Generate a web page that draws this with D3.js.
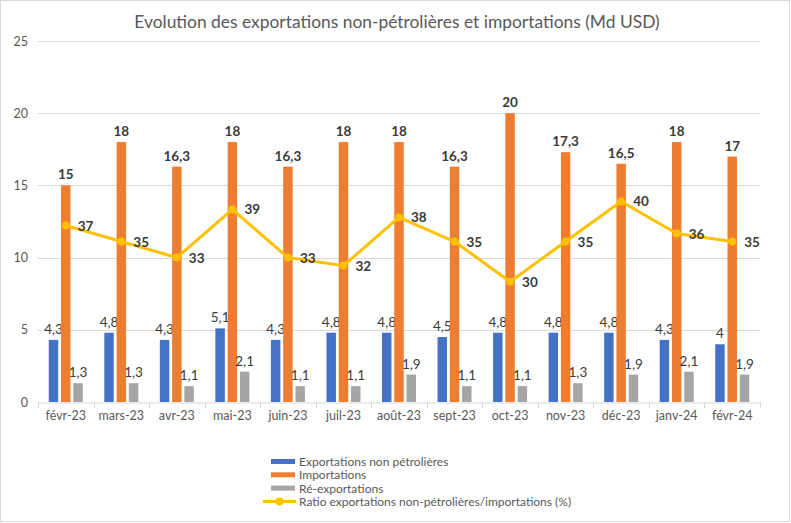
<!DOCTYPE html>
<html>
<head>
<meta charset="utf-8">
<script src="https://cdn.jsdelivr.net/npm/d3@7"></script>
<style>
  body { margin: 0; background: #fff; }
  svg { display: block; font-family: Lato, "Open Sans", sans-serif; }
</style>
</head>
<body>
<svg></svg>
<script>
var months = ['févr-23', 'mars-23', 'avr-23', 'mai-23', 'juin-23', 'juil-23', 'août-23',
    'sept-23', 'oct-23', 'nov-23', 'déc-23', 'janv-24', 'févr-24'];
var exportsNonOil = [4.3, 4.8, 4.3, 5.1, 4.3, 4.8, 4.8, 4.5, 4.8, 4.8, 4.8, 4.3, 4];
var imports = [15, 18, 16.3, 18, 16.3, 18, 18, 16.3, 20, 17.3, 16.5, 18, 17];
var reExports = [1.3, 1.3, 1.1, 2.1, 1.1, 1.1, 1.9, 1.1, 1.1, 1.3, 1.9, 2.1, 1.9];
var ratio = [37, 35, 33, 39, 33, 32, 38, 35, 30, 35, 40, 36, 35];
var yTicks = [0, 5, 10, 15, 20, 25];

var seriesNames = ['Exportations non pétrolières', 'Importations', 'Ré-exportations'];
var seriesColors = ['#4472C4', '#ED7D31', '#A5A5A5'];
var seriesValues = [exportsNonOil, imports, reExports];
var lineName = 'Ratio exportations non-pétrolières/importations (%)';
var lineColor = '#FFC000';

var width = 791, height = 523;
var plotLeft = 38, plotRight = 760, plotTop = 41, plotBottom = 402;

var fmt = function (v) { return String(v).replace('.', ','); };

var svg = d3.select('svg')
    .attr('width', width)
    .attr('height', height);

svg.append('rect')
    .attr('x', 0.5).attr('y', 0.5)
    .attr('width', width - 2).attr('height', height - 2)
    .style('fill', '#fff')
    .style('stroke', '#d9d9d9');

svg.append('text')
    .text('Evolution des exportations non-pétrolières et importations (Md USD)')
    .attr('x', 397).attr('y', 28)
    .attr('text-anchor', 'middle')
    .attr('font-size', '17.4px')
    .style('fill', '#595959');

var y = d3.scaleLinear().domain([0, 25]).range([plotBottom, plotTop]);
var yRatio = d3.scaleLinear().domain([15, 60]).range([plotBottom, plotTop]);

var x0 = d3.scaleBand().domain(months).range([plotLeft, plotRight]).paddingInner(0).paddingOuter(0);
var bw = x0.bandwidth();
var x1 = d3.scaleBand().domain(d3.range(3)).range([bw / 2 - 17, bw / 2 + 17]).paddingInner(0.23);

// gridlines
svg.append('g').selectAll('line')
    .data(yTicks.slice(1))
    .enter().append('line')
    .attr('x1', plotLeft).attr('x2', plotRight)
    .attr('y1', function (d) { return Math.round(y(d)) + 0.5; })
    .attr('y2', function (d) { return Math.round(y(d)) + 0.5; })
    .style('stroke', '#d9d9d9');

var yAxis = svg.append('g')
    .attr('transform', 'translate(' + plotLeft + ',0)')
    .call(d3.axisLeft(y).tickValues(yTicks).tickSize(0).tickPadding(10));
yAxis.select('.domain').remove();
yAxis.selectAll('text').attr('font-size', '12.5px').style('fill', '#595959').attr('font-family', 'Lato, sans-serif');

var xAxis = svg.append('g')
    .attr('transform', 'translate(0,' + (plotBottom + 0.5) + ')')
    .call(d3.axisBottom(x0).tickSize(0).tickPadding(9));
xAxis.select('.domain').style('stroke', '#d9d9d9');
xAxis.selectAll('text').attr('font-size', '12.5px').style('fill', '#595959').attr('font-family', 'Lato, sans-serif');
svg.append('g').selectAll('line')
    .data(d3.range(months.length + 1))
    .enter().append('line')
    .attr('x1', function (i) { return Math.round(plotLeft + i * bw) + 0.5; })
    .attr('x2', function (i) { return Math.round(plotLeft + i * bw) + 0.5; })
    .attr('y1', plotBottom).attr('y2', plotBottom + 6)
    .style('stroke', '#d9d9d9');

// bars
seriesValues.forEach(function (vals, s) {
    var g = svg.append('g');
    g.selectAll('rect')
        .data(vals)
        .enter().append('rect')
        .attr('x', function (d, i) { return x0(months[i]) + x1(s); })
        .attr('y', function (d) { return y(d); })
        .attr('width', x1.bandwidth())
        .attr('height', function (d) { return plotBottom - y(d); })
        .style('fill', seriesColors[s]);
    g.selectAll('text')
        .data(vals)
        .enter().append('text')
        .text(fmt)
        .attr('x', function (d, i) { return x0(months[i]) + x1(s) + x1.bandwidth() / 2; })
        .attr('y', function (d) { return y(d) - 6; })
        .attr('text-anchor', 'middle')
        .attr('font-size', '13.5px')
        .attr('font-weight', s === 1 ? 'bold' : 'normal')
        .style('fill', '#3a3a3a');
});

// ratio line
var cx = function (d, i) { return x0(months[i]) + x1(1) + x1.bandwidth() / 2; };
var line = d3.line()
    .x(cx)
    .y(function (d) { return yRatio(d); });

svg.append('path')
    .datum(ratio)
    .attr('d', line)
    .style('fill', 'none')
    .style('stroke', lineColor)
    .style('stroke-width', 3)
    .style('stroke-linejoin', 'round');

svg.append('g').selectAll('circle')
    .data(ratio)
    .enter().append('circle')
    .attr('cx', cx)
    .attr('cy', function (d) { return yRatio(d); })
    .attr('r', 4)
    .style('fill', lineColor);

svg.append('g').selectAll('text')
    .data(ratio)
    .enter().append('text')
    .text(fmt)
    .attr('x', function (d, i) { return cx(d, i) + 12; })
    .attr('y', function (d) { return yRatio(d) + 5; })
    .attr('font-size', '13.5px')
    .attr('font-weight', 'bold')
    .style('fill', '#3a3a3a');

// legend
var rowGap = 13.3;
var legend = svg.append('g').attr('transform', 'translate(271,459)');
seriesNames.forEach(function (name, s) {
    var row = legend.append('g').attr('transform', 'translate(0,' + s * rowGap + ')');
    row.append('rect')
        .attr('x', 0).attr('y', 0)
        .attr('width', 24).attr('height', 5)
        .style('fill', seriesColors[s]);
    row.append('text')
        .text(name)
        .attr('x', 28).attr('y', 7)
        .attr('font-size', '12px')
        .style('fill', '#595959');
});
var lrow = legend.append('g').attr('transform', 'translate(0,' + 3 * rowGap + ')');
lrow.append('line')
    .attr('x1', -8).attr('x2', 25)
    .attr('y1', 2.5).attr('y2', 2.5)
    .style('stroke', lineColor)
    .style('stroke-width', 3);
lrow.append('circle')
    .attr('cx', 8.5).attr('cy', 2.5).attr('r', 4)
    .style('fill', lineColor);
lrow.append('text')
    .text(lineName)
    .attr('x', 28).attr('y', 7)
    .attr('font-size', '12px')
    .style('fill', '#595959');
</script>
</body>
</html>
